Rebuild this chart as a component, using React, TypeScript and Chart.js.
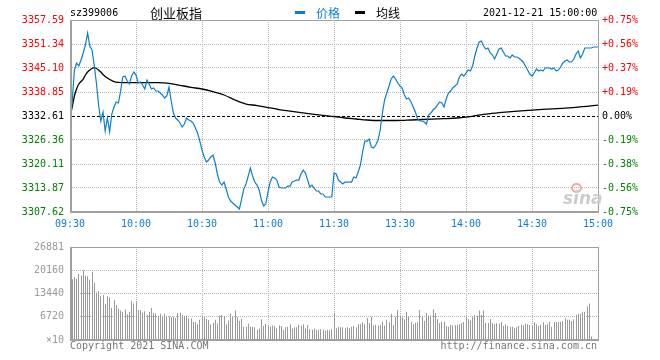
import React, { useEffect, useRef } from 'react';
import { Chart, registerables } from 'chart.js';

Chart.register(...registerables);

const PRE_CLOSE = 3332.61;
const PRICE_TICKS = [3307.62, 3313.87, 3320.11, 3326.36, 3332.61, 3338.85, 3345.1, 3351.34, 3357.59];
const TIME_LABELS = ['09:30', '10:00', '10:30', '11:00', '11:30', '13:30', '14:00', '14:30', '15:00'];
const TIME_STEPS = [0, 30, 60, 90, 120, 150, 180, 210, 240];
const VOLUME_TICKS = [0, 6720, 13440, 20160, 26881];

// one value per minute, 09:30 .. 11:30 / 13:00 .. 15:00
const PRICE = [
  3331.56, 3336.25, 3344.58, 3346.40, 3345.62, 3347.18, 3349.00, 3351.08, 3354.21, 3350.82,
  3349.78, 3345.88, 3341.19, 3335.46, 3331.30, 3333.64, 3328.70, 3332.08, 3328.44, 3333.12,
  3334.94, 3336.25, 3335.99, 3339.11, 3342.75, 3343.01, 3341.71, 3340.93, 3343.01, 3344.05,
  3343.27, 3341.19, 3341.45, 3340.67, 3339.63, 3341.97, 3340.93, 3339.63, 3339.89, 3339.11,
  3339.11, 3338.59, 3338.07, 3337.29, 3337.81, 3340.15, 3336.51, 3333.38, 3332.08, 3331.56,
  3330.78, 3329.74, 3330.52, 3332.08, 3331.56, 3331.30, 3330.78, 3329.48, 3328.18, 3326.09,
  3323.75, 3321.93, 3320.63, 3321.15, 3321.93, 3322.45, 3320.37, 3317.50, 3315.42, 3314.64,
  3315.42, 3313.60, 3311.52, 3310.48, 3309.96, 3309.43, 3308.91, 3308.39, 3311.00, 3313.60,
  3314.90, 3316.98, 3319.07, 3316.98, 3315.42, 3314.64, 3313.34, 3310.74, 3309.17, 3309.70,
  3312.82, 3315.42, 3316.72, 3316.46, 3315.94, 3314.12, 3313.86, 3313.86, 3313.86, 3314.38,
  3314.38, 3315.42, 3315.68, 3315.94, 3315.94, 3317.50, 3318.55, 3317.76, 3315.94, 3314.12,
  3314.64, 3313.86, 3313.08, 3313.08, 3312.30, 3312.30, 3311.52, 3311.52, 3311.52, 3311.52,
  3317.76, 3317.50, 3315.94, 3315.42, 3314.90, 3315.42, 3315.42, 3315.42, 3315.42, 3316.72,
  3316.46, 3318.02, 3319.85, 3323.23, 3326.09, 3326.09, 3326.61, 3324.53, 3324.27, 3325.05,
  3326.35, 3328.96, 3333.38, 3336.77, 3338.59, 3340.41, 3342.23, 3343.01, 3342.23, 3341.19,
  3340.41, 3339.89, 3338.07, 3337.03, 3337.29, 3336.25, 3334.94, 3333.64, 3331.82, 3331.30,
  3331.30, 3331.04, 3330.52, 3332.86, 3333.38, 3334.16, 3334.68, 3335.46, 3336.25, 3335.99,
  3334.94, 3337.03, 3338.59, 3339.11, 3339.89, 3340.41, 3340.93, 3342.75, 3343.53, 3343.01,
  3343.79, 3344.58, 3344.32, 3345.62, 3348.22, 3350.30, 3351.86, 3352.12, 3350.82, 3350.04,
  3350.30, 3349.00, 3348.48, 3347.44, 3348.74, 3350.04, 3350.30, 3349.26, 3348.22, 3348.22,
  3347.70, 3348.48, 3347.96, 3347.96, 3347.70, 3347.18, 3346.66, 3345.62, 3344.58, 3343.53,
  3343.01, 3343.79, 3344.84, 3344.32, 3344.58, 3344.32, 3345.10, 3345.10, 3345.10, 3344.84,
  3345.10, 3344.32, 3344.58, 3345.36, 3346.40, 3346.92, 3347.18, 3346.66, 3346.66, 3347.44,
  3348.74, 3349.52, 3347.70, 3348.74, 3350.30, 3350.30, 3350.30, 3350.30, 3350.56, 3350.56,
  3350.56,
];

const AVG_MINUTES = [
  0, 1, 2, 3, 4, 5, 6, 7, 8, 9, 10, 11, 12, 13, 14, 15, 16, 17, 18, 19, 20,
  22, 25, 30, 35, 40, 45, 50, 55, 60, 65, 70, 75, 78, 80, 85, 90, 95, 100, 105, 110, 115, 120,
  125, 130, 135, 140, 148, 155, 160, 170, 176, 182, 188, 195, 205, 215, 225, 233, 240,
];
const AVG_PRICE = [
  3332.42, 3334.94, 3337.81, 3339.63, 3340.93, 3341.58, 3342.23, 3343.27, 3344.05, 3344.58, 3344.97,
  3345.17, 3344.97, 3344.58, 3344.05, 3343.40, 3342.88, 3342.49, 3342.10, 3341.84, 3341.58,
  3341.37, 3341.27, 3341.27, 3341.27, 3341.27, 3341.11, 3340.59, 3340.07, 3339.63, 3338.93, 3338.07,
  3336.77, 3336.07, 3335.72, 3335.33, 3334.81, 3334.29, 3333.90, 3333.51, 3333.12, 3332.78, 3332.47,
  3332.08, 3331.82, 3331.56, 3331.43, 3331.43, 3331.56, 3331.69, 3331.90, 3332.08, 3332.47, 3333.05,
  3333.46, 3333.95, 3334.34, 3334.63, 3335.02, 3335.46,
];

const VOLUME = [
  17500, 17562, 18189, 17651, 19085, 18637, 20160, 18637, 18458, 17472,
  19712, 16576, 13709, 14067, 12634, 12992, 10304, 12634, 12365, 9229,
  11469, 10125, 9050, 8512, 8154, 8781, 7437, 8154, 11379, 10573,
  11021, 8691, 8602, 7885, 8333, 7258, 8154, 9229, 7795, 7616,
  6989, 7616, 6720, 7616, 6720, 6899, 6541, 6720, 6362, 7795,
  7795, 7168, 6899, 6989, 6272, 6272, 5197, 5197, 4570, 5824,
  6899, 6541, 6093, 5824, 4570, 5018, 5824, 4749, 6989, 7258,
  6899, 4570, 5645, 7616, 6899, 8512, 6541, 5466, 6093, 3853,
  3853, 4749, 3853, 3853, 3674, 2957, 3315, 6003, 4032, 4570,
  4032, 3853, 4211, 4032, 3315, 4211, 4032, 2957, 3674, 3853,
  4570, 3315, 3674, 3674, 4390, 4032, 4570, 3405, 4301, 3136,
  2957, 3315, 2957, 2957, 3136, 2957, 2778, 2957, 2778, 3136,
  7885, 3405, 3853, 3674, 3674, 3494, 3674, 3405, 3853, 4032,
  3674, 4570, 4570, 5107, 4570, 6362, 4928, 6720, 4211, 4390,
  4211, 4390, 5197, 4211, 5824, 5107, 7616, 4301, 6720, 8691,
  6899, 6541, 6003, 8154, 6720, 5197, 4570, 4928, 5107, 8691,
  6720, 5466, 7795, 7078, 7078, 8870, 7795, 6003, 4928, 5286,
  5286, 4032, 3853, 4301, 4211, 4301, 4390, 4570, 4928, 5197,
  6541, 6093, 5645, 6720, 7258, 6989, 8512, 7258, 8512, 4928,
  4928, 6093, 4928, 4570, 4928, 4749, 5197, 4032, 4570, 4032,
  3853, 3853, 3405, 3674, 4032, 4390, 4211, 4749, 4570, 4301,
  4032, 5107, 4570, 4032, 4390, 5107, 4301, 4570, 5286, 3853,
  5197, 5197, 5197, 5197, 5466, 6272, 5824, 5824, 5466, 6003,
  7258, 7437, 7616, 8154, 8154, 9677, 10573, 986, 0, 0,
  0,
];

const BLUE = '#0b7fcc';
const RED = '#ff0000';
const GREEN = '#008000';
const GRID = '#b4b4b4';
const FRAME = '#a0a0a0';
const MONO = 'DejaVu Sans Mono';
const CJK = '"Noto Sans CJK SC", "Noto Sans", sans-serif';

const tickFont = { family: MONO, size: 10 };

const framePlugin = {
  id: 'frame',
  afterDraw(chart: any) {
    const { ctx, chartArea } = chart;
    const { left, right, top, bottom } = chartArea;
    ctx.save();
    ctx.strokeStyle = FRAME;
    ctx.setLineDash([]);
    ctx.lineWidth = 1;
    ctx.beginPath();
    ctx.moveTo(left, top + 0.5);
    ctx.lineTo(right + 1, top + 0.5);
    ctx.moveTo(right + 0.5, top);
    ctx.lineTo(right + 0.5, bottom);
    ctx.stroke();
    ctx.lineWidth = 2;
    ctx.beginPath();
    ctx.moveTo(left + 1, top);
    ctx.lineTo(left + 1, bottom + 1);
    ctx.moveTo(left, bottom);
    ctx.lineTo(right + 1, bottom);
    ctx.stroke();
    ctx.restore();
  },
};

const zeroLinePlugin = {
  id: 'zeroLine',
  beforeDatasetsDraw(chart: any) {
    const { ctx, chartArea, scales } = chart;
    const y = Math.round(scales.y.getPixelForValue(PRE_CLOSE)) + 0.5;
    ctx.save();
    ctx.strokeStyle = '#000';
    ctx.lineWidth = 1;
    ctx.setLineDash([3, 2]);
    ctx.beginPath();
    ctx.moveTo(chartArea.left + 2, y);
    ctx.lineTo(chartArea.right, y);
    ctx.stroke();
    ctx.restore();
  },
};

const crispBarsPlugin = {
  id: 'crispBars',
  beforeDatasetsDraw(chart: any) {
    const meta = chart.getDatasetMeta(0);
    meta.data.forEach((el: any) => {
      el.x = Math.floor(el.x) + 0.5;
    });
  },
};

const colorFor = (v: number) =>
  v > PRE_CLOSE + 0.001 ? RED : v < PRE_CLOSE - 0.001 ? GREEN : '#000';

const pctLabel = (v: number) => {
  const p = ((v - PRE_CLOSE) / PRE_CLOSE) * 100;
  const s = Math.abs(p).toFixed(2);
  if (Math.abs(p) < 0.001) return '0.00%';
  return (p > 0 ? '+' : '-') + s + '%';
};

const txt = (extra: React.CSSProperties): React.CSSProperties => ({
  position: 'absolute',
  whiteSpace: 'nowrap',
  lineHeight: '10px',
  fontFamily: MONO,
  fontSize: 10,
  color: '#000',
  ...extra,
});

export default function App() {
  const priceRef = useRef<HTMLCanvasElement | null>(null);
  const volRef = useRef<HTMLCanvasElement | null>(null);

  useEffect(() => {
    const priceChart = new Chart(priceRef.current as HTMLCanvasElement, {
      type: 'line',
      data: {
        datasets: [
          {
            label: '价格',
            data: PRICE.map((p, i) => ({ x: i, y: p })),
            borderColor: BLUE,
            borderWidth: 1.2,
            pointRadius: 0,
            tension: 0,
            yAxisID: 'y',
          },
          {
            label: '均线',
            data: AVG_MINUTES.map((m, i) => ({ x: m, y: AVG_PRICE[i] })),
            borderColor: '#000',
            borderWidth: 1.3,
            pointRadius: 0,
            cubicInterpolationMode: 'monotone',
            yAxisID: 'y',
          },
        ],
      },
      options: {
        animation: false,
        responsive: false,
        maintainAspectRatio: false,
        devicePixelRatio: 1,
        events: [],
        layout: { padding: { top: 20, left: 0, right: 0, bottom: 0 } },
        plugins: { legend: { display: false }, tooltip: { enabled: false }, title: { display: false } },
        scales: {
          x: {
            type: 'linear',
            min: 0,
            max: 240,
            afterBuildTicks: (s: any) => {
              s.ticks = TIME_STEPS.map((v) => ({ value: v }));
            },
            afterFit: (s: any) => {
              s.height = 23;
            },
            ticks: {
              callback: (_v: any, i: number) => TIME_LABELS[i],
              color: BLUE,
              font: tickFont,
              padding: 6,
              autoSkip: false,
              maxRotation: 0,
              minRotation: 0,
            },
            grid: { color: GRID, lineWidth: 1, drawTicks: false, borderDash: [1, 1] } as any,
            border: { display: false, dash: [1, 1] },
          },
          y: {
            type: 'linear',
            position: 'left',
            min: PRICE_TICKS[0],
            max: PRICE_TICKS[PRICE_TICKS.length - 1],
            afterBuildTicks: (s: any) => {
              s.ticks = PRICE_TICKS.map((v) => ({ value: v }));
            },
            afterFit: (s: any) => {
              s.width = 70;
            },
            ticks: {
              callback: (v: any) => Number(v).toFixed(2),
              color: (c: any) => colorFor(c.tick.value),
              font: tickFont,
              padding: 6,
            },
            grid: {
              color: (c: any) =>
                c.tick && Math.abs(c.tick.value - PRE_CLOSE) < 0.005 ? 'rgba(0,0,0,0)' : GRID,
              lineWidth: 1,
              drawTicks: false,
              borderDash: [1, 1],
            } as any,
            border: { display: false, dash: [1, 1] },
          },
          y2: {
            type: 'linear',
            position: 'right',
            min: PRICE_TICKS[0],
            max: PRICE_TICKS[PRICE_TICKS.length - 1],
            afterBuildTicks: (s: any) => {
              s.ticks = PRICE_TICKS.map((v) => ({ value: v }));
            },
            afterFit: (s: any) => {
              s.width = 62;
            },
            ticks: {
              callback: (v: any) => pctLabel(Number(v)),
              color: (c: any) => colorFor(c.tick.value),
              font: tickFont,
              padding: 4,
            },
            grid: { drawOnChartArea: false, drawTicks: false },
            border: { display: false },
          },
        },
      } as any,
      plugins: [zeroLinePlugin, framePlugin],
    });

    const volChart = new Chart(volRef.current as HTMLCanvasElement, {
      type: 'bar',
      data: {
        datasets: [
          {
            label: 'volume',
            data: VOLUME.map((v, i) => ({ x: i, y: v })),
            backgroundColor: '#999999',
            borderWidth: 0,
            barThickness: 1,
            inflateAmount: 0,
          } as any,
        ],
      },
      options: {
        animation: false,
        responsive: false,
        maintainAspectRatio: false,
        devicePixelRatio: 1,
        events: [],
        layout: { padding: { top: 6, left: 0, right: 62, bottom: 0 } },
        plugins: { legend: { display: false }, tooltip: { enabled: false } },
        scales: {
          x: {
            type: 'linear',
            min: 0,
            max: 240,
            offset: false,
            afterBuildTicks: (s: any) => {
              s.ticks = TIME_STEPS.map((v) => ({ value: v }));
            },
            afterFit: (s: any) => {
              s.height = 20;
            },
            ticks: { display: false },
            grid: { color: GRID, lineWidth: 1, drawTicks: false, offset: false, borderDash: [1, 1] } as any,
            border: { display: false, dash: [1, 1] },
          },
          y: {
            type: 'linear',
            position: 'left',
            min: 0,
            max: VOLUME_TICKS[VOLUME_TICKS.length - 1],
            afterBuildTicks: (s: any) => {
              s.ticks = VOLUME_TICKS.map((v) => ({ value: v }));
            },
            afterFit: (s: any) => {
              s.width = 70;
            },
            ticks: {
              callback: (v: any) => (Number(v) === 0 ? '×10' : String(v)),
              color: '#999999',
              font: tickFont,
              padding: 6,
            },
            grid: { color: GRID, lineWidth: 1, drawTicks: false, borderDash: [1, 1] } as any,
            border: { display: false, dash: [1, 1] },
          },
        },
      } as any,
      plugins: [crispBarsPlugin, framePlugin],
    });

    return () => {
      priceChart.destroy();
      volChart.destroy();
    };
  }, []);

  return (
    <div
      style={{
        position: 'fixed',
        left: 0,
        top: 0,
        width: 660,
        height: 360,
        background: '#fff',
        overflow: 'hidden',
      }}
    >
      <canvas ref={priceRef} width={660} height={235} style={{ position: 'absolute', left: 0, top: 0 }} />
      <canvas ref={volRef} width={660} height={125} style={{ position: 'absolute', left: 0, top: 235 }} />

      <span style={txt({ left: 70, top: 8 })}>sz399006</span>
      <span style={txt({ left: 150, top: 6, fontFamily: CJK, fontSize: 13, lineHeight: '13px' })}>创业板指</span>

      <div style={{ position: 'absolute', left: 295, top: 11, width: 10, height: 3, background: BLUE }} />
      <span style={txt({ left: 316, top: 7, fontFamily: CJK, fontSize: 12, lineHeight: '12px', color: BLUE })}>价格</span>
      <div style={{ position: 'absolute', left: 355, top: 11, width: 10, height: 3, background: '#000' }} />
      <span style={txt({ left: 376, top: 7, fontFamily: CJK, fontSize: 12, lineHeight: '12px' })}>均线</span>

      <span style={txt({ left: 483, top: 8 })}>2021-12-21 15:00:00</span>

      <div
        style={{
          position: 'absolute',
          left: 571,
          top: 183,
          width: 7,
          height: 6,
          borderRadius: '50%',
          border: '2px solid #f2a6a6',
        }}
      />
      <span
        style={txt({
          left: 563,
          top: 190,
          fontFamily: 'DejaVu Sans',
          fontSize: 17,
          lineHeight: '17px',
          fontStyle: 'italic',
          fontWeight: 'bold',
          color: '#cccccc',
        })}
      >
        sina
      </span>

      <span style={txt({ left: 70, top: 341, color: '#777777' })}>Copyright 2021 SINA.COM</span>
      <span style={txt({ right: 63, top: 341, color: '#777777' })}>http://finance.sina.com.cn</span>
    </div>
  );
}
